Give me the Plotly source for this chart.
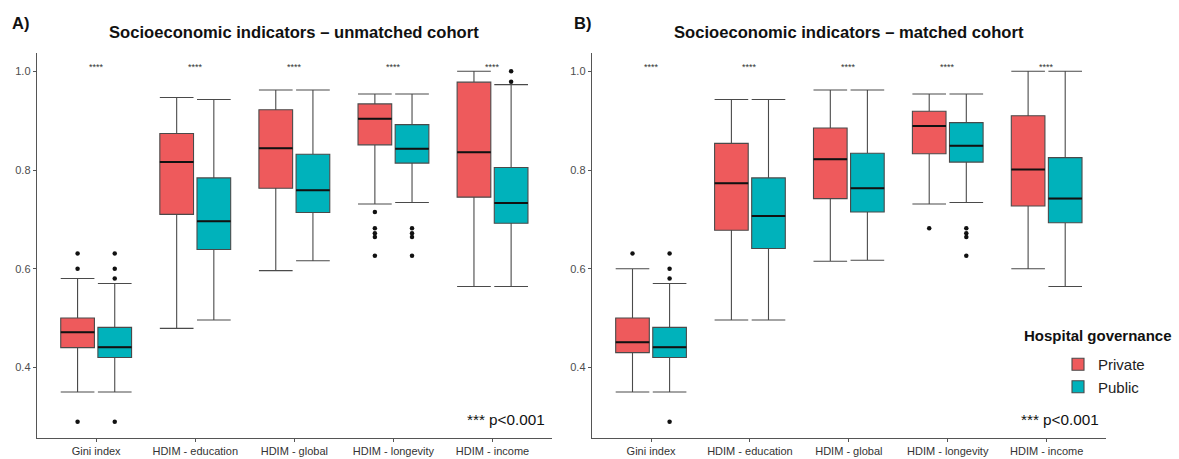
import plotly.graph_objects as go

# ---- data -------------------------------------------------------------
categories = ["Gini index", "HDIM - education", "HDIM - global", "HDIM - longevity", "HDIM - income"]
groups = ["Private", "Public"]
signif = ["****", "****", "****", "****", "****"]

# unmatched cohort: five-number summaries per category
unm_private_q1 = [0.440, 0.710, 0.763, 0.851, 0.745]
unm_private_med = [0.471, 0.816, 0.844, 0.904, 0.836]
unm_private_q3 = [0.500, 0.874, 0.922, 0.934, 0.978]
unm_private_lo = [0.350, 0.479, 0.596, 0.731, 0.564]
unm_private_hi = [0.580, 0.947, 0.962, 0.954, 1.000]
unm_private_out = [[0.631, 0.600, 0.290], [], [], [0.715, 0.682, 0.672, 0.664, 0.626], []]

unm_public_q1 = [0.420, 0.639, 0.714, 0.814, 0.692]
unm_public_med = [0.441, 0.696, 0.759, 0.843, 0.733]
unm_public_q3 = [0.481, 0.784, 0.832, 0.892, 0.805]
unm_public_lo = [0.350, 0.496, 0.616, 0.734, 0.564]
unm_public_hi = [0.570, 0.943, 0.962, 0.954, 0.973]
unm_public_out = [[0.631, 0.600, 0.580, 0.290], [], [], [0.682, 0.672, 0.664, 0.626], [1.000, 0.979]]

# matched cohort
mat_private_q1 = [0.430, 0.678, 0.742, 0.833, 0.727]
mat_private_med = [0.451, 0.773, 0.822, 0.889, 0.801]
mat_private_q3 = [0.500, 0.854, 0.885, 0.919, 0.910]
mat_private_lo = [0.350, 0.496, 0.615, 0.731, 0.600]
mat_private_hi = [0.600, 0.943, 0.962, 0.954, 1.000]
mat_private_out = [[0.631], [], [], [0.682], []]

mat_public_q1 = [0.420, 0.641, 0.715, 0.816, 0.693]
mat_public_med = [0.441, 0.707, 0.763, 0.849, 0.742]
mat_public_q3 = [0.481, 0.784, 0.834, 0.896, 0.825]
mat_public_lo = [0.350, 0.496, 0.617, 0.734, 0.564]
mat_public_hi = [0.570, 0.943, 0.962, 0.954, 1.000]
mat_public_out = [[0.631, 0.600, 0.580, 0.290], [], [], [0.682, 0.672, 0.664, 0.626], []]

panel_titles = ["Socioeconomic indicators \u2013 unmatched cohort",
                "Socioeconomic indicators \u2013 matched cohort"]
panel_tags = ["A)", "B)"]
pvalue_note = "*** p<0.001"
legend_title = "Hospital governance"

# ---- style ------------------------------------------------------------
FONT = "Liberation Sans, Arial, sans-serif"
colors = {"Private": "#EE5A5C", "Public": "#00B2BB"}
dodge = {"Private": -0.1875, "Public": 0.1875}
BOX_W = 0.34
W, H = 1179, 459

panels = [
    {
        "Private": (unm_private_q1, unm_private_med, unm_private_q3, unm_private_lo, unm_private_hi, unm_private_out),
        "Public": (unm_public_q1, unm_public_med, unm_public_q3, unm_public_lo, unm_public_hi, unm_public_out),
    },
    {
        "Private": (mat_private_q1, mat_private_med, mat_private_q3, mat_private_lo, mat_private_hi, mat_private_out),
        "Public": (mat_public_q1, mat_public_med, mat_public_q3, mat_public_lo, mat_public_hi, mat_public_out),
    },
]

x_domains = [[36.7 / W, 552 / W], [591.7 / W, 1106 / W]]
y_domain = [1 - 438 / H, 1 - 53.3 / H]
y_range = [0.2569, 1.0365]

fig = go.Figure()
pos = list(range(len(categories)))

for p, panel in enumerate(panels):
    xa = "x" if p == 0 else "x2"
    ya = "y" if p == 0 else "y2"
    for g in groups:
        q1, med, q3, lo, hi, out = panel[g]
        xs = [i + dodge[g] for i in pos]
        fig.add_trace(go.Box(
            x=xs, q1=q1, median=med, q3=q3, lowerfence=lo, upperfence=hi,
            width=BOX_W, whiskerwidth=1, boxpoints=False,
            fillcolor=colors[g], line=dict(color="#4a4a4a", width=1.1),
            name=g, legendgroup=g, showlegend=(p == 1),
            xaxis=xa, yaxis=ya, hoverinfo="skip",
        ))
        # thicker black median segments
        mx, my = [], []
        for x, m in zip(xs, med):
            mx += [x - BOX_W / 2, x + BOX_W / 2, None]
            my += [m, m, None]
        fig.add_trace(go.Scatter(x=mx, y=my, mode="lines",
                                 line=dict(color="#111111", width=2),
                                 showlegend=False, hoverinfo="skip",
                                 xaxis=xa, yaxis=ya))
        # outliers
        ox, oy = [], []
        for x, vals in zip(xs, out):
            ox += [x] * len(vals)
            oy += vals
        fig.add_trace(go.Scatter(x=ox, y=oy, mode="markers",
                                 marker=dict(color="#111111", size=4.5),
                                 showlegend=False, hoverinfo="skip",
                                 xaxis=xa, yaxis=ya))
    # significance stars above each category
    for i, s in enumerate(signif):
        fig.add_annotation(x=i, y=1.0087, xref=xa, yref=ya, text=s,
                           showarrow=False, font=dict(size=9, color="#333333", family=FONT))

xaxis_common = dict(range=[-0.6, 4.6], tickvals=pos, ticktext=categories,
                    showline=True, linecolor="#555555", linewidth=1,
                    ticks="outside", ticklen=3, tickcolor="#555555",
                    showgrid=False, zeroline=False,
                    tickfont=dict(size=11, color="#333333", family=FONT))
yaxis_common = dict(range=y_range, domain=y_domain, tickvals=[0.4, 0.6, 0.8, 1.0],
                    ticktext=["0.4", "0.6", "0.8", "1.0"],
                    showline=True, linecolor="#555555", linewidth=1,
                    ticks="outside", ticklen=3, tickcolor="#555555",
                    showgrid=False, zeroline=False,
                    tickfont=dict(size=11, color="#4d4d4d", family=FONT))

fig.update_layout(
    width=W, height=H,
    margin=dict(l=0, r=0, t=0, b=0),
    paper_bgcolor="white", plot_bgcolor="white",
    font=dict(family=FONT),
    xaxis=dict(domain=x_domains[0], anchor="y", **xaxis_common),
    yaxis=dict(anchor="x", **yaxis_common),
    xaxis2=dict(domain=x_domains[1], anchor="y2", **xaxis_common),
    yaxis2=dict(anchor="x2", **yaxis_common),
    showlegend=True,
    legend=dict(x=1058 / W, y=1 - 348 / H, xanchor="left", yanchor="top",
                bgcolor="rgba(0,0,0,0)", font=dict(size=15, color="#222222", family=FONT),
                tracegroupgap=0, itemwidth=30),
)

# panel titles and tags
for p in range(2):
    cx = (x_domains[p][0] + x_domains[p][1]) / 2
    fig.add_annotation(x=cx, y=1 - 32.7 / H, xref="paper", yref="paper",
                       text="<b>" + panel_titles[p] + "</b>", showarrow=False,
                       xanchor="center", yanchor="middle",
                       font=dict(size=16.6, color="#111111", family=FONT))
    fig.add_annotation(x=x_domains[p][1] - 5 / W, y=1 - 419 / H, xref="paper", yref="paper",
                       text=pvalue_note, showarrow=False, xanchor="right", yanchor="middle",
                       font=dict(size=15.3, color="#111111", family=FONT))

fig.add_annotation(x=10 / W, y=1 - 22.7 / H, xref="paper", yref="paper", text="<b>" + panel_tags[0] + "</b>",
                   showarrow=False, xanchor="left", yanchor="middle",
                   font=dict(size=16.5, color="#111111", family=FONT))
fig.add_annotation(x=572 / W, y=1 - 22.7 / H, xref="paper", yref="paper", text="<b>" + panel_tags[1] + "</b>",
                   showarrow=False, xanchor="left", yanchor="middle",
                   font=dict(size=16.5, color="#111111", family=FONT))
fig.add_annotation(x=1098 / W, y=1 - 335 / H, xref="paper", yref="paper", text="<b>" + legend_title + "</b>",
                   showarrow=False, xanchor="center", yanchor="middle",
                   font=dict(size=15, color="#111111", family=FONT))

fig.write_html("out.html")
